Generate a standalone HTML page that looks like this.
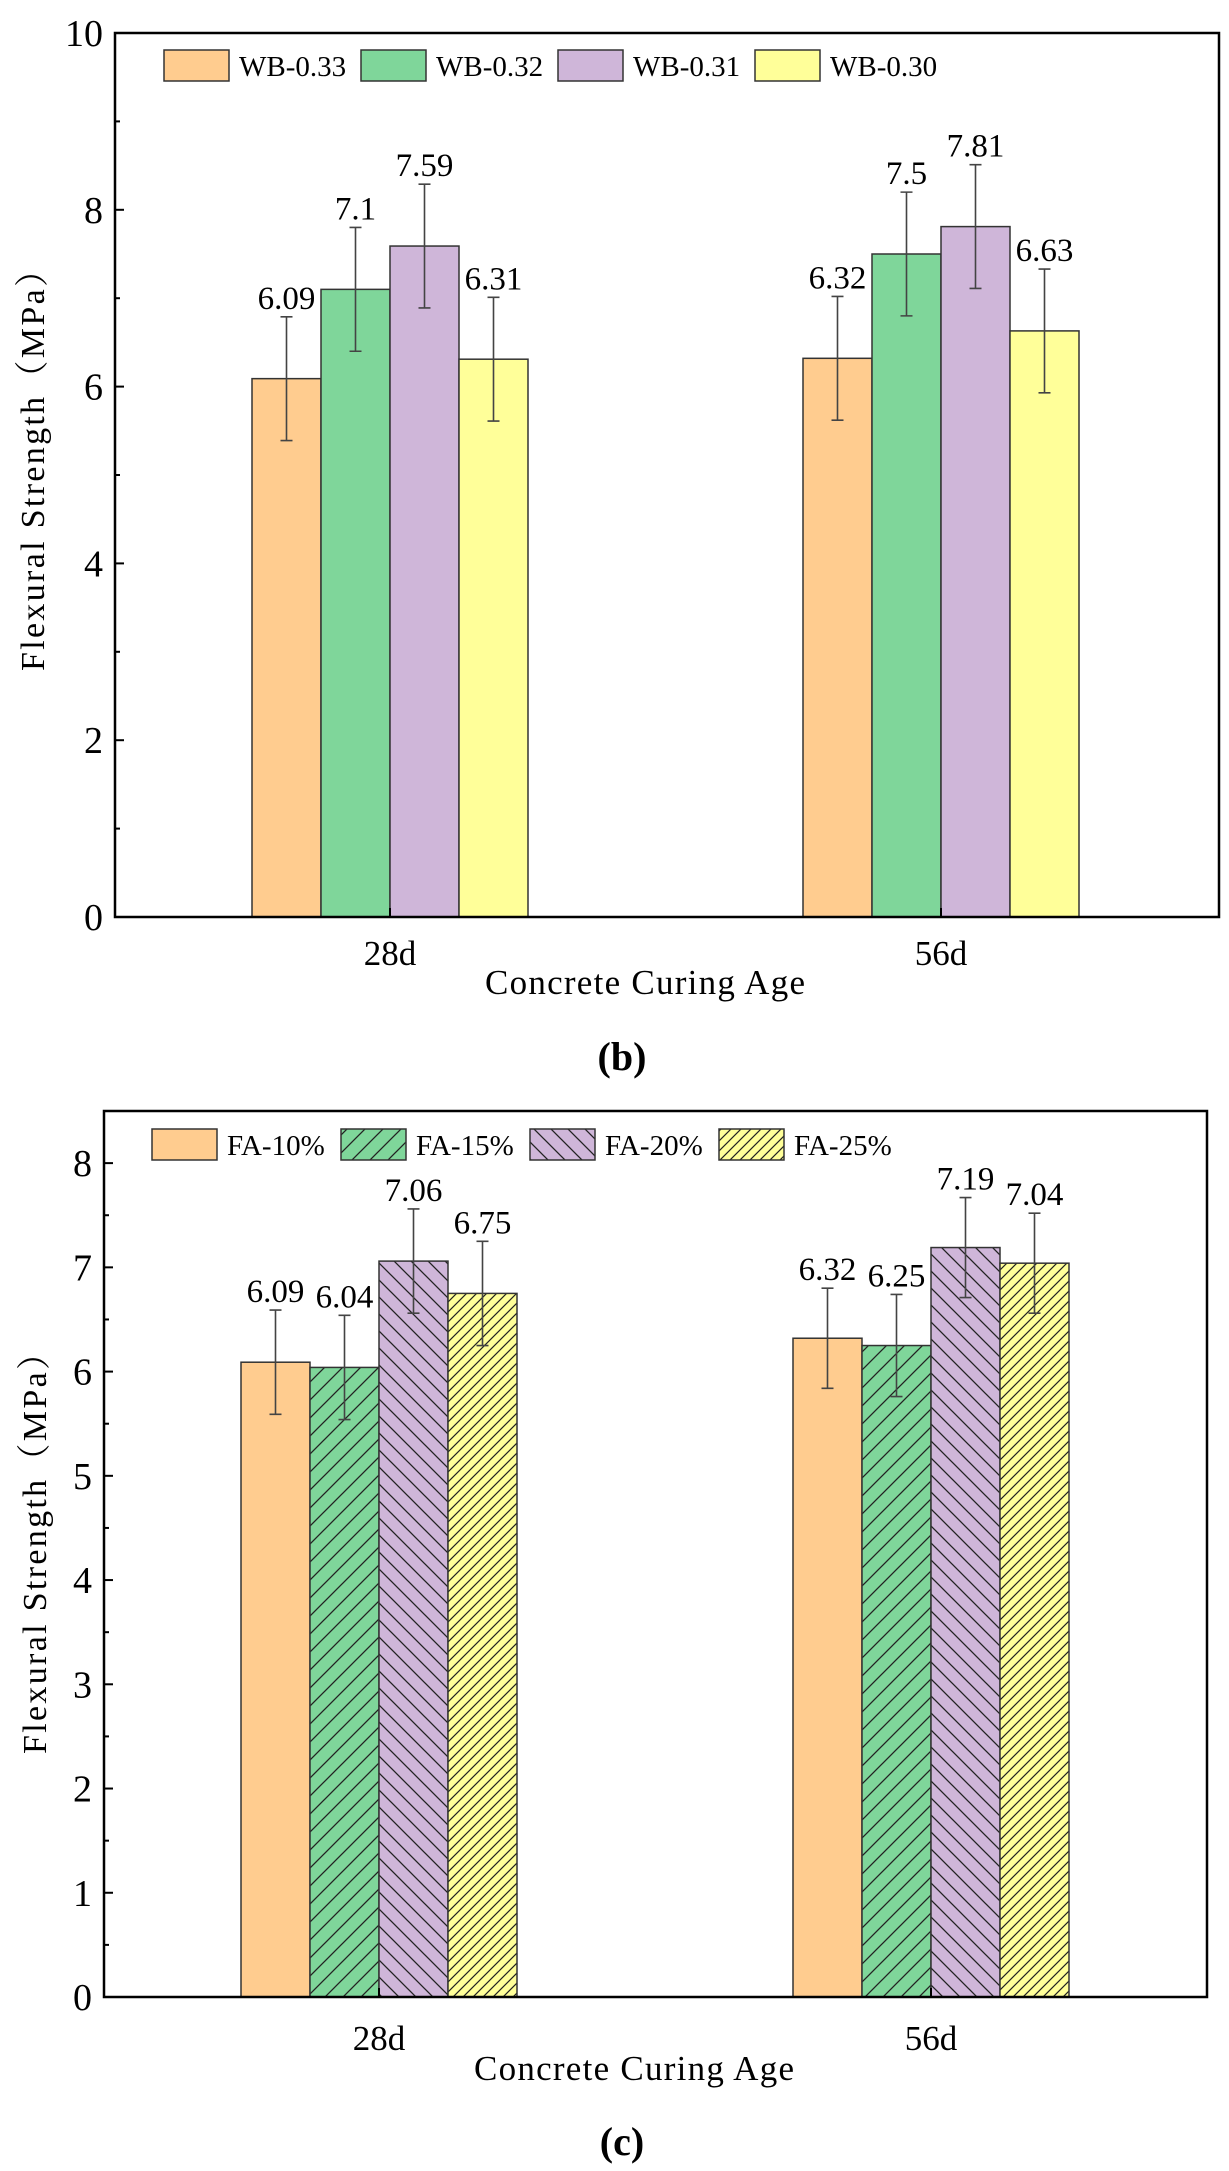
<!DOCTYPE html>
<html><head><meta charset="utf-8"><style>
html,body{margin:0;padding:0;background:#fff}
svg{display:block}
text{font-family:"Liberation Serif","Noto Serif CJK SC",serif;fill:#000}
</style></head><body>
<svg id="svg" width="1229" height="2171" viewBox="0 0 1229 2171" xmlns="http://www.w3.org/2000/svg">
<defs>
<pattern id="hGreen" patternUnits="userSpaceOnUse" width="18" height="18">
<rect width="18" height="18" fill="#7FD69A"/><path d="M-2,20 L20,-2 M-2,2 L2,-2 M16,20 L20,16" stroke="#222" stroke-width="1.3"/></pattern>
<pattern id="hPurple" patternUnits="userSpaceOnUse" width="17" height="17">
<rect width="17" height="17" fill="#CFB6D9"/><path d="M-2,-2 L19,19 M15,-2 L19,2 M-2,15 L2,19" stroke="#222" stroke-width="1.3"/></pattern>
<pattern id="hYellow" patternUnits="userSpaceOnUse" width="10" height="10">
<rect width="10" height="10" fill="#FFFF99"/><path d="M-2,12 L12,-2 M-2,2 L2,-2 M8,12 L12,8" stroke="#222" stroke-width="1.2"/></pattern>
</defs>
</svg>
<script>
// ---- Chart (b) data ----
const catsB = ["28d", "56d"];
const seriesB = ["WB-0.33", "WB-0.32", "WB-0.31", "WB-0.30"];
const valsB = [[6.09, 6.32], [7.1, 7.5], [7.59, 7.81], [6.31, 6.63]];
const errB = [[0.7, 0.7], [0.7, 0.7], [0.7, 0.7], [0.7, 0.7]];
const labelsB = [["6.09", "6.32"], ["7.1", "7.5"], ["7.59", "7.81"], ["6.31", "6.63"]];
const ticksB = [0, 2, 4, 6, 8, 10];
// ---- Chart (c) data ----
const catsC = ["28d", "56d"];
const seriesC = ["FA-10%", "FA-15%", "FA-20%", "FA-25%"];
const valsC = [[6.09, 6.32], [6.04, 6.25], [7.06, 7.19], [6.75, 7.04]];
const errC = [[0.5, 0.48], [0.5, 0.49], [0.5, 0.48], [0.5, 0.48]];
const labelsC = [["6.09", "6.32"], ["6.04", "6.25"], ["7.06", "7.19"], ["6.75", "7.04"]];
const ticksC = [0, 1, 2, 3, 4, 5, 6, 7, 8];

const NS = "http://www.w3.org/2000/svg";
const svg = document.getElementById("svg");
function mk(tag, attrs, parent, txt) {
  const e = document.createElementNS(NS, tag);
  for (const k in attrs) e.setAttribute(k, attrs[k]);
  if (txt !== undefined) e.textContent = txt;
  (parent || svg).appendChild(e);
  return e;
}

function drawChart(cfg) {
  const g = mk("g", {});
  
  
  const L = cfg.left, R = cfg.right, T = cfg.top, B = cfg.bottom;
  const y = v => B - (v - 0) / (cfg.ymax) * (B - T);
  const groupX = i => cfg.groupStart[i];
  cfg.series.forEach((s, si) => {
    cfg.cats.forEach((c, ci) => {
      const x = groupX(ci) + si * cfg.barW;
      const v = cfg.vals[si][ci];
      const r = mk("rect", {x: x, y: y(v), width: cfg.barW, height: B - y(v), fill: cfg.fills[si], stroke: "#333", "stroke-width": 1.5}, g);
      
      
      const cx = x + cfg.barW / 2, e = cfg.err[si][ci];
      const eb = mk("path", {d: `M${cx},${y(v + e)} V${y(v - e)} M${cx - 6},${y(v + e)} H${cx + 6} M${cx - 6},${y(v - e)} H${cx + 6}`, stroke: "#444", "stroke-width": 1.6, fill: "none"}, g);
      
      
      const t = mk("text", {x: cx, y: y(v + e) - 8, "text-anchor": "middle", "font-size": 33}, g, cfg.labels[si][ci]);
      
      
    });
  });
  const fr = mk("rect", {x: L, y: T, width: R - L, height: B - T, fill: "none", stroke: "#000", "stroke-width": 2.5}, g);
  
  
  cfg.ticks.forEach(tv => {
    const tk = mk("line", {x1: L, x2: L + 9, y1: y(tv), y2: y(tv), stroke: "#000", "stroke-width": 2}, g);
    
    
    const tl = mk("text", {x: L - 12, y: y(tv) + 13, "text-anchor": "end", "font-size": 38}, g, String(tv));
    
    
  });
  cfg.minor.forEach(tv => {
    const tk = mk("line", {x1: L, x2: L + 5, y1: y(tv), y2: y(tv), stroke: "#000", "stroke-width": 2}, g);
    
    
  });
  cfg.cats.forEach((c, ci) => {
    const cx = groupX(ci) + cfg.barW * cfg.series.length / 2;
    const tk = mk("line", {x1: cx, x2: cx, y1: B, y2: B - 9, stroke: "#000", "stroke-width": 2}, g);
    
    
    const tl = mk("text", {x: cx, y: cfg.catY, "text-anchor": "middle", "font-size": 35}, g, c);
    
    
  });
  cfg.series.forEach((s, si) => {
    const lx = cfg.legX + si * cfg.legStep;
    const lb = mk("rect", {x: lx, y: cfg.legY, width: cfg.legW, height: 31, fill: cfg.fills[si], stroke: "#333", "stroke-width": 1.5}, g);
    
    
    const lt = mk("text", {x: lx + cfg.legW + 10, y: cfg.legY + 26, "font-size": 29}, g, s);
    
    
  });
  const xt = mk("text", {x: cfg.titleX, y: cfg.titleY, "text-anchor": "middle", "font-size": 35, textLength: 320}, g, "Concrete Curing Age");
  
  
  const yt = mk("text", {x: 0, y: 0, "text-anchor": "middle", "font-size": 34, textLength: 418, transform: `translate(${cfg.ytX},${cfg.ytY}) rotate(-90)`}, g, "Flexural Strength（MPa）");
  
  
  const pl = mk("text", {x: cfg.panelX, y: cfg.panelY, "text-anchor": "middle", "font-size": 40, "font-weight": "bold"}, g, cfg.panel);
  
  
}

drawChart({name: "chart-b", left: 115, right: 1219, top: 33, bottom: 917, ymax: 10,
  cats: catsB, series: seriesB, vals: valsB, err: errB, labels: labelsB, ticks: ticksB,
  minor: [1, 3, 5, 7, 9], fills: ["#FFCC8F", "#7FD69A", "#CFB6D9", "#FFFF99"],
  groupStart: [252, 803], barW: 69, catY: 965, legX: 164, legY: 50, legW: 65, legStep: 197,
  titleX: 645, titleY: 994, ytX: 44, ytY: 462, panel: "(b)", panelX: 622, panelY: 1070});

drawChart({name: "chart-c", left: 104, right: 1207, top: 1111, bottom: 1997, ymax: 8.5,
  cats: catsC, series: seriesC, vals: valsC, err: errC, labels: labelsC, ticks: ticksC,
  minor: [0.5, 1.5, 2.5, 3.5, 4.5, 5.5, 6.5, 7.5], fills: ["#FFCC8F", "url(#hGreen)", "url(#hPurple)", "url(#hYellow)"],
  groupStart: [241, 793], barW: 69, catY: 2050, legX: 152, legY: 1129, legW: 65, legStep: 189,
  titleX: 634, titleY: 2080, ytX: 46, ytY: 1545, panel: "(c)", panelX: 622, panelY: 2155});
</script>
</body></html>
